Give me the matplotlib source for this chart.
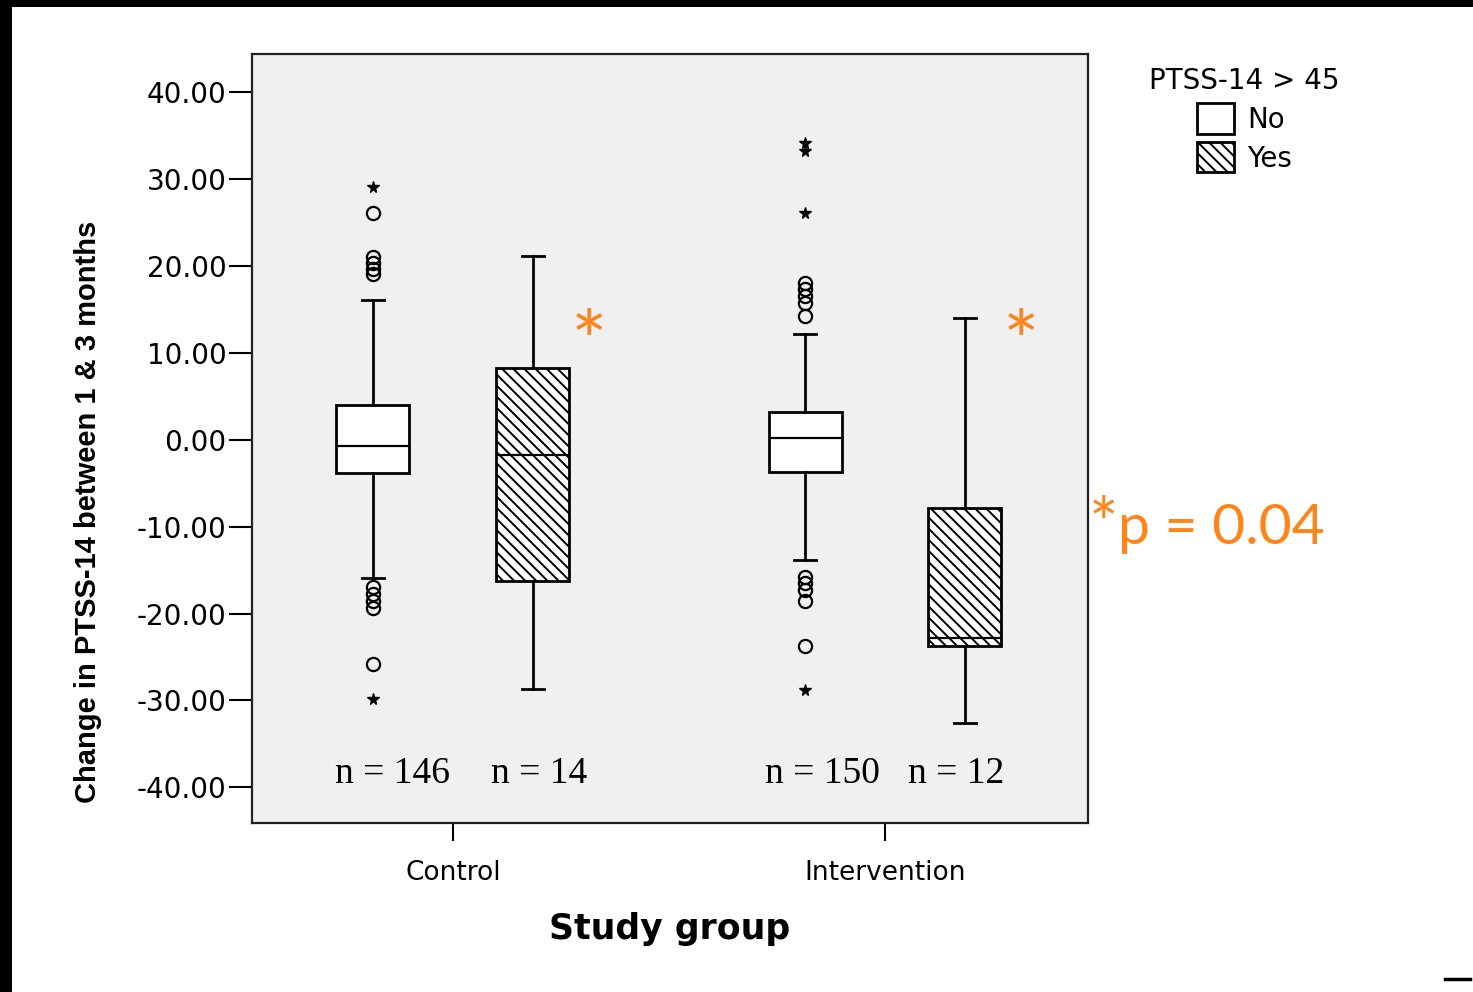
import numpy as np
import matplotlib
matplotlib.use('Agg')
import matplotlib.pyplot as plt
from matplotlib.patches import Patch, Rectangle
from matplotlib.lines import Line2D

# ---- data
groups = ['Control', 'Intervention']
hue_levels = ['No', 'Yes']
n_counts = ['n = 146', 'n = 14', 'n = 150', 'n = 12']

# one entry per box: Control/No, Control/Yes, Intervention/No, Intervention/Yes
q1 = [-3.8, -16.3, -3.7, -23.7]
med = [-0.7, -1.8, 0.2, -22.8]
q3 = [4.0, 8.3, 3.2, -7.8]
whislo = [-15.9, -28.7, -13.8, -32.6]
whishi = [16.1, 21.1, 12.2, 14.0]

# outliers (circles) and extremes (stars)
ctrl_no_circles = [26.1, 21.0, 20.3, 19.6, 19.1, -16.9, -17.7, -18.5, -19.3, -25.8]
ctrl_no_stars = [29.1, -29.8]
int_no_circles = [18.1, 17.3, 16.5, 15.7, 14.2, -15.8, -16.5, -17.3, -18.6, -23.7]
int_no_stars = [34.2, 33.2, 26.1, -28.8]

yticks = [-40, -30, -20, -10, 0, 10, 20, 30, 40]
orange = '#FF851B'

plt.rcParams['hatch.linewidth'] = 1.4

fig = plt.figure(figsize=(14.73, 9.92), dpi=100)
fig.patch.set_facecolor('white')
ax = fig.add_axes([252/1473, 1 - 823/992, 836/1473, 769/992])
ax.set_facecolor('#F0F0F0')

offs = 0.185
pos = [0 - offs, 0 + offs, 1 - offs, 1 + offs]
stats = []
for i in range(4):
    stats.append(dict(med=med[i], q1=q1[i], q3=q3[i], whislo=whislo[i],
                      whishi=whishi[i], fliers=[]))

bp = ax.bxp(stats, positions=pos, widths=0.169, patch_artist=True,
            showfliers=False, capwidths=0.05,
            boxprops=dict(edgecolor='black', linewidth=2.0),
            whiskerprops=dict(color='black', linewidth=2.0),
            capprops=dict(color='black', linewidth=2.0),
            medianprops=dict(color='black', linewidth=1.6))
for i, b in enumerate(bp['boxes']):
    b.set_facecolor('white')
    if i % 2 == 1:
        b.set_hatch('\\\\\\')
    b.set_zorder(2)

# outliers
for x, circ, star in [(pos[0], ctrl_no_circles, ctrl_no_stars),
                      (pos[2], int_no_circles, int_no_stars)]:
    ax.plot([x]*len(circ), circ, 'o', mfc='none', mec='black', ms=9.5, mew=1.6,
            ls='none', zorder=3)
    ax.plot([x]*len(star), star, '*', color='black', ms=8.5, ls='none', zorder=3)

# n labels
n_dx = [0.045, 0.015, 0.04, -0.02]
for i in range(4):
    ax.text(pos[i] + n_dx[i], -38.4, n_counts[i], ha='center', va='center',
            fontsize=27, family=['Liberation Serif', 'DejaVu Serif'])

ax.set_xlim(-0.465, 1.47)
ax.set_ylim(-44.1, 44.4)
ax.set_xticks([0, 1])
ax.set_xticklabels(groups, fontsize=19)
ax.set_yticks(yticks)
ax.set_yticklabels(['%.2f' % v for v in yticks], fontsize=20)
ax.tick_params(axis='y', length=16.5, width=1.5, pad=2)
ax.tick_params(axis='x', length=13, width=1.5, pad=14)
for sp in ax.spines.values():
    sp.set_linewidth(1.6)
    sp.set_color('#222222')

ax.set_xlabel('Study group', fontsize=25, fontweight='bold', labelpad=18)
ax.set_ylabel('Change in PTSS-14 between 1 & 3 months', fontsize=21,
              fontweight='bold', fontstretch='condensed',
              family=['Liberation Sans Narrow', 'Liberation Sans', 'DejaVu Sans'])
ax.yaxis.set_label_coords(-0.18, 0.404)

# orange significance marks
for x in [pos[1], pos[3]]:
    ax.text(x + 0.13, 10.6, '*', color=orange, fontsize=62, ha='center',
            va='center', family=['Lato', 'DejaVu Sans'])
fig.text(1089/1473, 1 - 529/992, '*', color=orange, fontsize=50, ha='left',
         va='center', family=['Lato', 'DejaVu Sans'])
fig.text(1118/1473, 1 - 528/992, 'p = 0.04', color=orange, fontsize=41,
         ha='left', va='center', family=['Lato', 'DejaVu Sans'])

# legend
handles = [Patch(facecolor='white', edgecolor='black', linewidth=2, label=hue_levels[0]),
           Patch(facecolor='white', edgecolor='black', linewidth=2, hatch='\\\\\\',
                 label=hue_levels[1])]
leg = fig.legend(handles=handles, title='PTSS-14 > 45', loc='upper left',
                 bbox_to_anchor=(1124/1473, 1 - 42/992), frameon=False,
                 fontsize=20, title_fontsize=20, handlelength=1.35,
                 handleheight=1.3, handletextpad=0.45, labelspacing=0.3)

# black frame edges of the screenshot
fig.patches.append(Rectangle((0, 1 - 7/992), 1, 7/992, transform=fig.transFigure,
                             facecolor='black', edgecolor='none'))
fig.patches.append(Rectangle((0, 0), 12/1473, 1, transform=fig.transFigure,
                             facecolor='black', edgecolor='none'))
fig.add_artist(Line2D([1445/1473, 1470/1473], [1 - 979/992, 1 - 979/992],
                      color='black', linewidth=2.5, transform=fig.transFigure))

fig.savefig('out.png', dpi=100)
